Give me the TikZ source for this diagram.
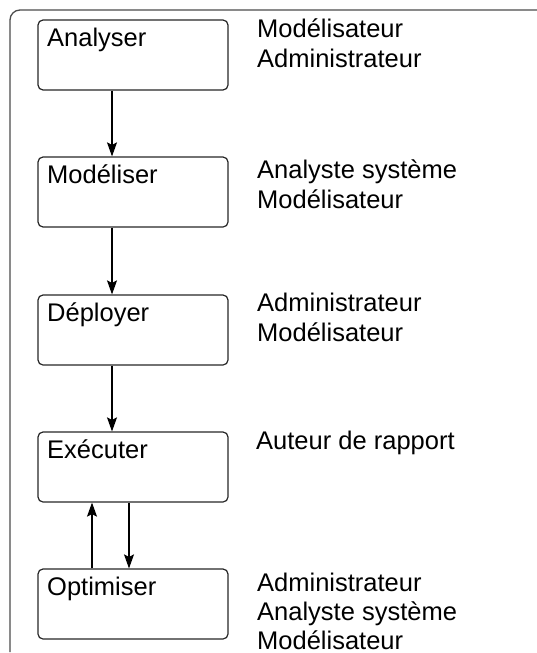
\documentclass[tikz,border=0pt]{standalone}
\usepackage{fontspec}
\setmainfont{Liberation Sans}
\usetikzlibrary{arrows.meta}
\begin{document}
\begin{tikzpicture}[x=1pt,y=-1pt,
  stepbox/.style={draw=black!85,line width=1.2pt,rounded corners=5pt,minimum width=190pt,minimum height=70pt,inner sep=0pt},
  txt/.style={anchor=base west,inner sep=0pt,font=\fontsize{25.5}{30}\selectfont},
  arr/.style={draw=black,line width=1.1pt,-{Stealth[length=14pt,width=10pt,inset=2.5pt]}},
  frame/.style={draw=black!70,line width=1.3pt,rounded corners=10pt}]
\useasboundingbox (0,0) rectangle (537,653);
\draw[frame] (10,652) -- (10,10) -- (537,10);
% boxes
\node[stepbox] (ana) at (133,55) {};
\node[stepbox] (mod) at (133,192) {};
\node[stepbox] (dep) at (133,330) {};
\node[stepbox] (exe) at (133,467) {};
\node[stepbox] (opt) at (133,604) {};
% box labels
\node[txt] (lana) at (47,46) {Analyser};
\node[txt] (lmod) at (47,183) {Modéliser};
\node[txt] (ldep) at (47,321) {Déployer};
\node[txt] (lexe) at (47,458) {Exécuter};
\node[txt] (lopt) at (47,595) {Optimiser};
% roles
\node[txt] (r1a) at (257,37) {Modélisateur};
\node[txt] (r1b) at (257,67) {Administrateur};
\node[txt] (r2a) at (257,178) {Analyste système};
\node[txt] (r2b) at (257,208) {Modélisateur};
\node[txt] (r3a) at (257,311) {Administrateur};
\node[txt] (r3b) at (257,341) {Modélisateur};
\node[txt] (r4a) at (256,449) {Auteur de rapport};
\node[txt] (r5a) at (257,591) {Administrateur};
\node[txt] (r5b) at (257,620) {Analyste système};
\node[txt] (r5c) at (257,649) {Modélisateur};
% arrows
\draw[arr] ([xshift=-21pt]ana.south) -- ([xshift=-21pt]mod.north);
\draw[arr] ([xshift=-21pt]mod.south) -- ([xshift=-21pt]dep.north);
\draw[arr] ([xshift=-21pt]dep.south) -- ([xshift=-21pt]exe.north);
\draw[arr] ([xshift=-4pt]exe.south) -- ([xshift=-4pt]opt.north);
\draw[arr] ([xshift=-41pt]opt.north) -- ([xshift=-41pt]exe.south);
\end{tikzpicture}
\end{document}
